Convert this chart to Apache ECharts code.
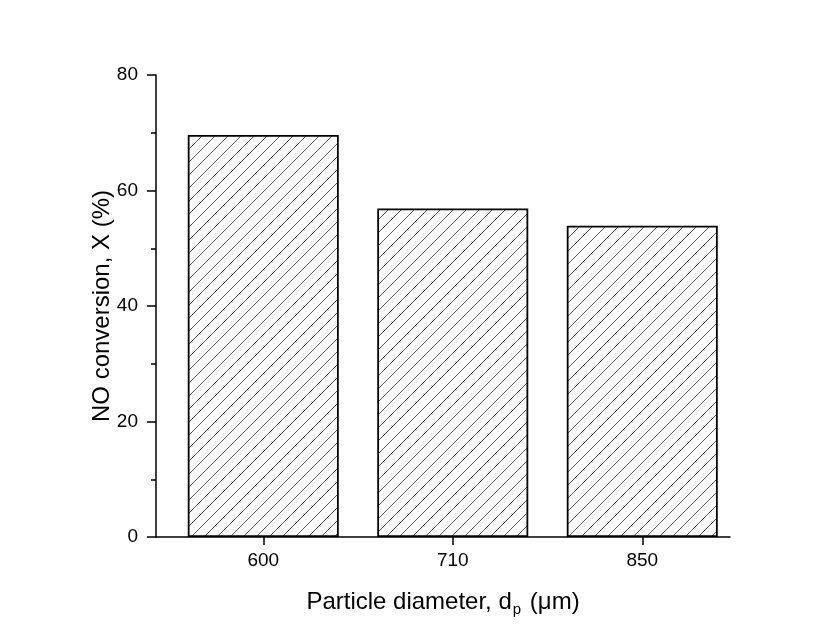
<!DOCTYPE html>
<html>
<head>
<meta charset="utf-8">
<script src="https://cdn.jsdelivr.net/npm/echarts@6/dist/echarts.min.js"></script>
<style>
  html, body { margin: 0; padding: 0; background: #fff; }
  #chart { width: 831px; height: 639px; }
</style>
</head>
<body>
<div id="chart"></div>
<script>
// Particle diameters (µm) and measured NO conversion (%)
const diameters = ['600', '710', '850'];
const conversion = [69.6, 56.9, 53.9];
const positions = [0, 1, 2];

// Diagonal hatch fill for the bars
function hatchPattern() {
  const s = 13;
  const c = document.createElement('canvas');
  c.width = s; c.height = s;
  const g = c.getContext('2d');
  g.fillStyle = '#fff';
  g.fillRect(0, 0, s, s);
  g.strokeStyle = '#5a5a5a';
  g.lineWidth = 1;
  g.beginPath();
  g.moveTo(-2, s + 2); g.lineTo(s + 2, -2);
  g.moveTo(-2, 2); g.lineTo(2, -2);
  g.moveTo(s - 2, s + 2); g.lineTo(s + 2, s - 2);
  g.stroke();
  return c;
}

const font = '"Liberation Sans", Arial, sans-serif';
const chart = echarts.init(document.getElementById('chart'), null, { renderer: 'canvas' });

chart.setOption({
  backgroundColor: '#fff',
  animation: false,
  grid: { left: 156, right: 101, top: 75, bottom: 102 },
  xAxis: {
    type: 'value',
    min: -0.566,
    max: 2.463,
    name: 'Particle diameter, d{sub|p} (\u03bcm)',
    nameLocation: 'middle',
    nameGap: 50,
    nameMoveOverlap: false,
    nameTextStyle: {
      fontFamily: font, fontSize: 24, color: '#000',
      rich: { sub: { fontFamily: font, fontSize: 15, color: '#000', padding: [15, 2, 0, 1] } }
    },
    splitLine: { show: false },
    axisLine: { show: true, onZero: false, lineStyle: { color: '#000', width: 1.5 } },
    axisTick: { show: true, customValues: positions, length: 8, inside: false, lineStyle: { color: '#000', width: 1.5 } },
    axisLabel: {
      customValues: positions,
      margin: 14,
      fontFamily: font, fontSize: 19, color: '#000',
      formatter: v => diameters[Math.round(v)]
    }
  },
  yAxis: {
    type: 'value',
    min: 0, max: 80, interval: 20,
    name: 'NO conversion, X (%)',
    nameLocation: 'middle',
    nameGap: 42,
    nameMoveOverlap: false,
    nameTextStyle: { fontFamily: font, fontSize: 24, color: '#000' },
    splitLine: { show: false },
    axisLine: { show: true, onZero: false, lineStyle: { color: '#000', width: 1.5 } },
    axisTick: { show: true, length: 9, lineStyle: { color: '#000', width: 1.5 } },
    minorTick: { show: true, splitNumber: 2, length: 5, lineStyle: { color: '#000', width: 1.5 } },
    axisLabel: { margin: 18, fontFamily: font, fontSize: 19, color: '#000' }
  },
  series: [{
    type: 'bar',
    barWidth: 151,
    data: positions.map((p, i) => [p, conversion[i]]),
    itemStyle: {
      color: { image: hatchPattern(), repeat: 'repeat' },
      borderColor: '#000',
      borderWidth: 1.8
    }
  }]
});
</script>
</body>
</html>
